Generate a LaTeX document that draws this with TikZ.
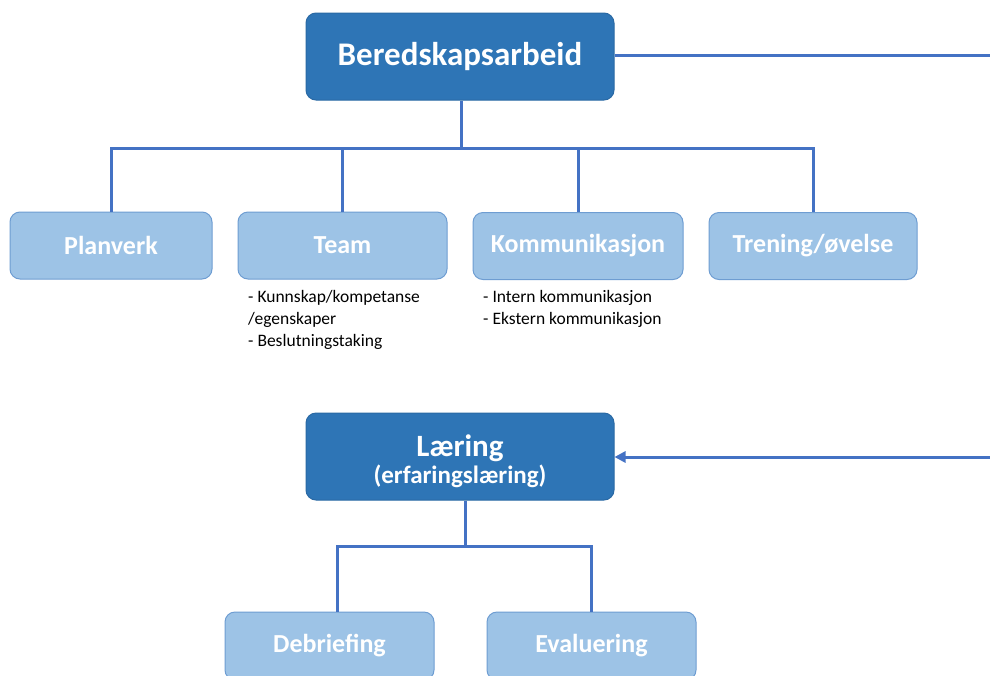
\documentclass[tikz,border=0pt]{standalone}
\usepackage{fontspec}
\setmainfont{Carlito}
\usetikzlibrary{arrows.meta,calc}
\definecolor{darkbox}{HTML}{2E75B6}
\definecolor{darkedge}{HTML}{2A69A4}
\definecolor{lightbox}{HTML}{9DC3E6}
\definecolor{lightedge}{HTML}{6E9DD2}
\definecolor{conncol}{HTML}{4472C4}
\tikzset{
  mainbox/.style={draw=darkedge, line width=1pt, fill=darkbox, rounded corners=10pt,
    minimum width=308pt, minimum height=87pt, inner sep=0pt, text=white,
    font=\bfseries, align=center},
  subbox/.style={draw=lightedge, line width=1pt, fill=lightbox, rounded corners=10pt,
    minimum height=67pt, inner sep=0pt, text=white, font=\fontsize{26}{30}\selectfont\bfseries},
  conn/.style={draw=conncol, line width=3pt},
  listtext/.style={anchor=north west, align=left, inner sep=0pt,
    font=\fontsize{17.5}{22}\selectfont},
}
\begin{document}
\begin{tikzpicture}[x=1pt,y=-1pt]
\useasboundingbox (0,0) rectangle (990,675);
\clip (0,0) rectangle (990,675);
\fill[white] (0,0) rectangle (990,675);

\node[mainbox, font=\fontsize{33}{38}\selectfont\bfseries] (bered) at (460,56.5) {Beredskapsarbeid};

\node[subbox, minimum width=202pt] (plan) at (111,245.5) {Planverk};
\node[subbox, minimum width=209pt] (team) at (342.5,245.5) {Team};
\node[subbox, minimum width=210pt] (komm) at (578,246) {Kommunikasjon};
\node[subbox, minimum width=208pt] (tren) at (813,246) {Trening/øvelse};

\node[listtext] (teamlist) at (248,290) {- Kunnskap/kompetanse\\/egenskaper\\- Beslutningstaking};
\node[listtext] (kommlist) at (483,290) {- Intern kommunikasjon\\- Ekstern kommunikasjon};

\node[mainbox] (laer) at (460,456.5) {};
\node[text=white, align=center, inner sep=0pt, font=\bfseries] (laertext) at (460,461)
  {\fontsize{31}{34}\selectfont Læring\\[2pt]\fontsize{25}{28}\selectfont (erfaringslæring)};

\node[subbox, minimum width=209pt, minimum height=68pt] (debr) at (329.5,646) {Debriefing};
\node[subbox, minimum width=209pt, minimum height=68pt] (eval) at (591.5,646) {Evaluering};

\coordinate (r1) at (992,55);
\coordinate (r2) at (992,457);
\coordinate (bus1) at (461,148);
\coordinate (bus2) at (465,546);

% top tree
\draw[conn] (bered.south -| bus1) -- (bus1);
\draw[conn] (plan.north) |- (bus1) -| (tren.north);
\draw[conn] (team.north) -- (team.north |- bus1);
\draw[conn] (komm.north) -- (komm.north |- bus1);

% bottom tree
\draw[conn] (laer.south -| bus2) -- (bus2);
\draw[conn] ([xshift=8pt]debr.north) |- (bus2) -| (eval.north);

% right side links
\draw[conn] (bered.east |- r1) -- (r1);
\draw[conn, -{Triangle[length=11pt,width=11pt]}] (r2) -- (laer.east |- r2);
\end{tikzpicture}
\end{document}
